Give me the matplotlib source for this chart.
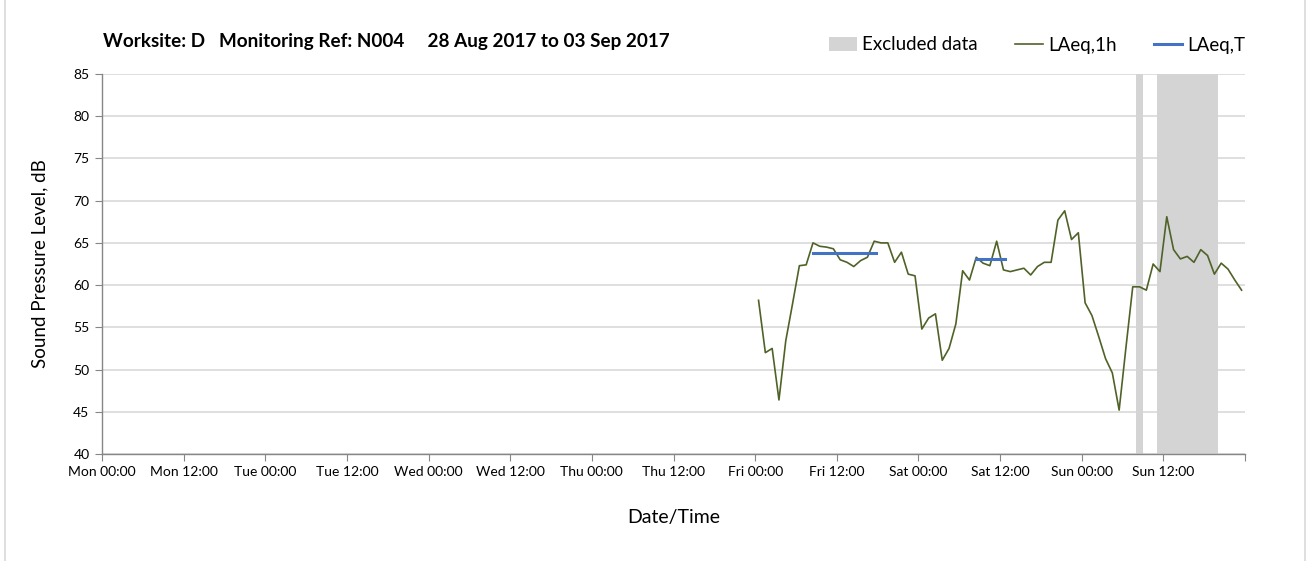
import matplotlib
matplotlib.use("Agg")
import matplotlib.pyplot as plt
from matplotlib.lines import Line2D
from matplotlib.patches import Patch
import numpy as np

plt.rcParams['font.family'] = ['Lato', 'DejaVu Sans']

# hourly LAeq,1h values, Fri 00:30 .. Sun 23:30 (hours from Mon 00:00)
hours = np.arange(96.5, 168.0, 1.0)
laeq_1h = [58.2, 52.0, 52.5, 46.4, 53.4, 57.8, 62.3, 62.4, 65.0, 64.6,
           64.5, 64.3, 63.0, 62.7, 62.2, 62.9, 63.3, 65.2, 65.0, 65.0,
           62.7, 63.9, 61.3, 61.1, 54.8, 56.1, 56.6, 51.1, 52.5, 55.4,
           61.7, 60.6, 63.3, 62.6, 62.3, 65.2, 61.8, 61.6, 61.8, 62.0,
           61.2, 62.2, 62.7, 62.7, 67.7, 68.8, 65.4, 66.2, 57.9, 56.4,
           53.9, 51.3, 49.6, 45.2, 52.6, 59.8, 59.8, 59.4, 62.5, 61.6,
           68.1, 64.2, 63.1, 63.4, 62.7, 64.2, 63.5, 61.3, 62.6, 61.9,
           60.6, 59.4]

# LAeq,T periods (start hour, end hour, level)
laeq_t_start = [104.5, 128.5]
laeq_t_end = [113.7, 132.7]
laeq_t_val = [63.8, 63.1]

# excluded data periods
excl_start = [152.0, 155.0]
excl_end = [153.0, 164.0]

days = ['Mon', 'Tue', 'Wed', 'Thu', 'Fri', 'Sat', 'Sun']
tick_labels = []
for d in days:
    tick_labels += [d + ' 00:00', d + ' 12:00']
tick_labels.append('')

green = '#4F6228'
blue = '#4472C4'
grey_band = '#D4D4D4'

fig = plt.figure(figsize=(13.09, 5.61), dpi=100)
ax = fig.add_axes([102 / 1309, 1 - 454 / 561, (1245 - 102) / 1309, (454 - 74) / 561])

for s, e in zip(excl_start, excl_end):
    ax.axvspan(s, e, color=grey_band, lw=0, zorder=1)

ax.plot(hours, laeq_1h, color=green, lw=1.2, zorder=3)
for s, e, v in zip(laeq_t_start, laeq_t_end, laeq_t_val):
    ax.plot([s, e], [v, v], color=blue, lw=2.2, zorder=4)

ax.set_xlim(0, 168)
ax.set_ylim(40, 85)
ax.set_xticks(np.arange(0, 169, 12))
ax.set_xticklabels(tick_labels, fontsize=10)
ax.set_xticks(np.arange(24, 168, 24), minor=True)
ax.set_yticks(np.arange(40, 86, 5))
ax.tick_params(axis='y', labelsize=10, length=5, color='#868686', pad=4)
ax.tick_params(axis='x', which='major', length=5, color='#868686', pad=4)
ax.tick_params(axis='x', which='minor', length=0)
ax.grid(True, axis='y', color='#D9D9D9', lw=1.2, zorder=0)
ax.grid(True, axis='x', which='minor', color='#D9D9D9', lw=1.2, zorder=0)
ax.set_axisbelow(True)
for side in ['top', 'right']:
    ax.spines[side].set_visible(False)
for side in ['left', 'bottom']:
    ax.spines[side].set_color('#868686')
    ax.spines[side].set_linewidth(1.0)

ax.set_ylabel('Sound Pressure Level, dB', fontsize=13.5, labelpad=18)
ax.set_xlabel('Date/Time', fontsize=14, labelpad=22)

fig.text(103 / 1309, 1 - 42 / 561,
         'Worksite: D   Monitoring Ref: N004     28 Aug 2017 to 03 Sep 2017',
         fontsize=13.6, fontweight='bold', ha='left', va='center')

handles = [Patch(facecolor=grey_band, edgecolor='none'),
           Line2D([], [], color=green, lw=1.2),
           Line2D([], [], color=blue, lw=2.2)]
fig.legend(handles, ['Excluded data', 'LAeq,1h', 'LAeq,T'],
           loc='center right', bbox_to_anchor=(1262 / 1309, 1 - 45 / 561),
           ncol=3, frameon=False, fontsize=13.5, handlelength=1.45,
           handletextpad=0.3, columnspacing=2.0)

# chart area border (sides)
fig.add_artist(Line2D([5 / 1309, 5 / 1309], [0, 1], color='#D9D9D9', lw=1.2))
fig.add_artist(Line2D([1305 / 1309, 1305 / 1309], [0, 1], color='#D9D9D9', lw=1.2))

fig.savefig('out.png', dpi=100)
